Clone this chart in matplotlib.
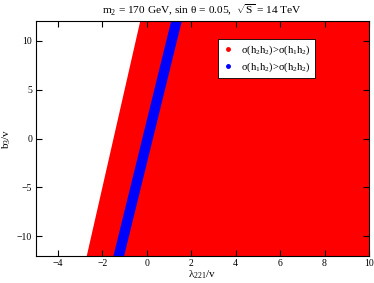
import matplotlib
matplotlib.use("Agg")
import matplotlib.pyplot as plt
from matplotlib.lines import Line2D

# Data (boundaries of the regions)
b3_edges = [-12, 12]                 # b3/v at bottom and top
red_left = [-2.72, -0.32]            # left edge of red region (lambda221/v)
red_right = [10, 10]                 # right edge of red region
blue_left = [-1.52, 1.07]            # left edge of blue band
blue_right = [-1.04, 1.55]           # right edge of blue band

xticks = [-4, -2, 0, 2, 4, 6, 8, 10]
yticks = [-10, -5, 0, 5, 10]

plt.rcParams['font.family'] = ['Liberation Serif', 'DejaVu Serif']
plt.rcParams['mathtext.fontset'] = 'custom'
plt.rcParams['mathtext.rm'] = 'Liberation Serif'
plt.rcParams['mathtext.it'] = 'Liberation Serif'

fig = plt.figure(figsize=(3.74, 2.83), dpi=100)
ax = fig.add_axes([0.095, 0.0965, 0.8916, 0.8282])

ax.fill_betweenx(b3_edges, red_left, red_right, color='#ff0000', lw=0, zorder=1)
ax.fill_betweenx(b3_edges, blue_left, blue_right, color='#0000ff', lw=0, zorder=2)

ax.set_xlim(-5, 10)
ax.set_ylim(-12, 12)
ax.set_xticks(xticks)
ax.set_yticks(yticks)
ax.tick_params(direction='in', top=True, right=True, length=4, width=0.8,
               labelsize=7, pad=2.5)
for s in ax.spines.values():
    s.set_linewidth(0.8)
    s.set_zorder(5)

ax.set_xlabel(r'$\mathrm{\lambda_{221}/v}$', fontsize=8, labelpad=0)
ax.set_ylabel(r'$\mathrm{b_3/v}$', fontsize=8, labelpad=3)
ax.set_title(r'm$_2$ = 170 GeV, sin $\mathrm{\theta}$ = 0.05,  $\sqrt{\mathrm{S}}$ = 14 TeV',
             fontsize=8.2, pad=5)

handles = [
    Line2D([], [], marker='o', color='#ff0000', ls='none', markersize=2.5),
    Line2D([], [], marker='o', color='#0000ff', ls='none', markersize=2.5),
]
labels = [r'$\mathrm{\sigma(h_2h_2)}$>$\mathrm{\sigma(h_1h_2)}$',
          r'$\mathrm{\sigma(h_1h_2)}$>$\mathrm{\sigma(h_2h_2)}$']
leg = ax.legend(handles, labels, loc='upper left', bbox_to_anchor=(0.547, 0.924),
                borderaxespad=0,
                fontsize=7.6, frameon=True, fancybox=False, framealpha=1,
                edgecolor='black', handlelength=1.2, handletextpad=0.6,
                borderpad=0.4, labelspacing=0.3)
leg.get_frame().set_linewidth(0.6)
leg.set_zorder(10)

fig.savefig('out.png', dpi=100)
